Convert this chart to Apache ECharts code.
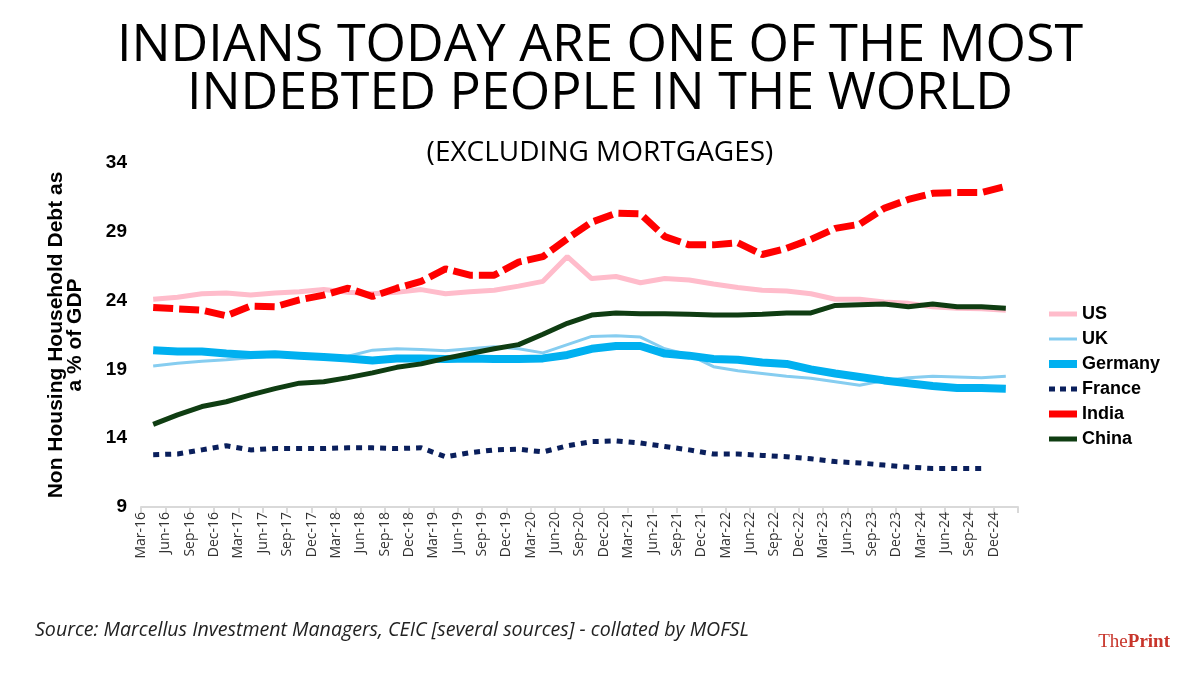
<!DOCTYPE html>
<html>
<head>
<meta charset="utf-8">
<script src="https://cdn.jsdelivr.net/npm/echarts@6/dist/echarts.min.js"></script>
<style>
  html, body { margin: 0; padding: 0; background: #fff; }
  #chart { width: 1200px; height: 675px; }
</style>
</head>
<body>
<div id="chart"></div>
<script>
// quarter labels (Mar-16 .. Dec-24)
var quarters = ['Mar-16','Jun-16','Sep-16','Dec-16','Mar-17','Jun-17','Sep-17','Dec-17',
  'Mar-18','Jun-18','Sep-18','Dec-18','Mar-19','Jun-19','Sep-19','Dec-19',
  'Mar-20','Jun-20','Sep-20','Dec-20','Mar-21','Jun-21','Sep-21','Dec-21',
  'Mar-22','Jun-22','Sep-22','Dec-22','Mar-23','Jun-23','Sep-23','Dec-23',
  'Mar-24','Jun-24','Sep-24','Dec-24'];

// non housing household debt, % of GDP
var us = [24.1,24.25,24.5,24.55,24.4,24.55,24.65,24.8,24.6,24.5,24.6,24.8,
  24.5,24.65,24.75,25.05,25.4,27.2,25.6,25.75,25.3,25.6,25.5,25.2,
  24.95,24.75,24.7,24.5,24.1,24.1,23.9,23.8,23.55,23.45,23.4,23.3];
var uk = [19.25,19.45,19.6,19.7,19.85,19.95,20.0,19.9,19.95,20.4,20.5,20.45,
  20.35,20.5,20.65,20.5,20.2,20.8,21.4,21.45,21.35,20.5,20.05,19.2,
  18.9,18.7,18.5,18.35,18.1,17.85,18.2,18.4,18.5,18.45,18.4,18.5];
var germany = [20.4,20.3,20.3,20.15,20.05,20.1,20.0,19.9,19.8,19.65,19.8,19.8,
  19.75,19.8,19.75,19.75,19.8,20.05,20.5,20.7,20.7,20.15,20.0,19.75,
  19.7,19.5,19.4,19.0,18.7,18.45,18.2,18.0,17.8,17.65,17.65,17.6];
var france = [12.8,12.85,13.15,13.45,13.15,13.25,13.25,13.25,13.3,13.3,13.25,13.3,
  12.65,12.95,13.15,13.2,13.0,13.45,13.75,13.8,13.65,13.4,13.15,12.85,
  12.85,12.75,12.65,12.5,12.3,12.2,12.05,11.9,11.8,11.8,11.8,null];
var india = [23.5,23.4,23.3,22.9,23.6,23.55,24.05,24.4,24.9,24.3,24.9,25.4,
  26.3,25.85,25.85,26.8,27.2,28.5,29.7,30.35,30.3,28.65,28.05,28.05,
  28.2,27.35,27.8,28.45,29.25,29.55,30.7,31.35,31.8,31.85,31.85,32.3];
var china = [15.0,15.7,16.3,16.65,17.15,17.6,18.0,18.1,18.4,18.75,19.15,19.4,
  19.8,20.15,20.5,20.8,21.55,22.35,22.95,23.1,23.05,23.05,23.0,22.95,
  22.95,23.0,23.1,23.1,23.65,23.7,23.75,23.55,23.75,23.55,23.55,23.45];

var chart = echarts.init(document.getElementById('chart'));

function line(name, data, color, width, type) {
  return {
    name: name,
    type: 'line',
    xAxisIndex: 0,
    data: data,
    symbol: 'none',
    connectNulls: false,
    lineStyle: { color: color, width: width, type: type || 'solid', cap: 'butt' },
    itemStyle: { color: color }
  };
}

var option = {
  backgroundColor: '#fff',
  animation: false,
  title: [
    {
      text: 'INDIANS TODAY ARE ONE OF THE MOST\nINDEBTED PEOPLE IN THE WORLD',
      left: 'center',
      top: 17,
      textStyle: { fontFamily: 'Open Sans', fontWeight: 'normal', fontSize: 52, lineHeight: 48, color: '#000' }
    },
    {
      text: '(EXCLUDING MORTGAGES)',
      left: 'center',
      top: 134,
      textStyle: { fontFamily: 'Open Sans', fontWeight: 'normal', fontSize: 28, color: '#000' }
    }
  ],
  grid: { left: 141, right: 182, top: 163, bottom: 168 },
  legend: {
    orient: 'vertical',
    left: 1040,
    top: 300,
    itemWidth: 28,
    itemHeight: 14,
    itemGap: 7,
    // hide the marker that echarts puts in the middle of line legend icons
    itemStyle: { opacity: 0 },
    textStyle: { fontFamily: 'Liberation Sans', fontWeight: 'bold', fontSize: 18, color: '#000' },
    data: [
      { name: 'US', lineStyle: { width: 5 } },
      { name: 'UK', lineStyle: { width: 3 } },
      { name: 'Germany', lineStyle: { width: 8 } },
      { name: 'France', lineStyle: { width: 5, type: [6, 5] } },
      { name: 'India', lineStyle: { width: 7, type: 'solid' } },
      { name: 'China', lineStyle: { width: 5 } }
    ]
  },
  xAxis: [
    {
      type: 'category',
      data: quarters,
      boundaryGap: true,
      axisLine: { show: false },
      axisTick: { show: false },
      axisLabel: { show: false }
    },
    {
      // label axis: labels sit on the band boundaries like the original
      type: 'category',
      position: 'bottom',
      data: quarters.concat(['']),
      boundaryGap: false,
      axisLine: { show: true, lineStyle: { color: '#d9d9d9', width: 2 } },
      axisTick: { show: true, length: 6, lineStyle: { color: '#d9d9d9', width: 2 } },
      axisLabel: {
        interval: 0,
        rotate: 90,
        margin: 5,
        fontFamily: 'Open Sans',
        fontSize: 14,
        color: '#333'
      }
    }
  ],
  yAxis: {
    type: 'value',
    min: 9,
    max: 34,
    interval: 5,
    name: 'Non Housing Household Debt as\na % of GDP',
    nameLocation: 'middle',
    nameGap: 56,
    nameTextStyle: { fontFamily: 'Liberation Sans', fontWeight: 'bold', fontSize: 21, color: '#000', lineHeight: 19, align: 'center' },
    axisLine: { show: false },
    axisTick: { show: false },
    splitLine: { show: false },
    axisLabel: { fontFamily: 'Liberation Sans', fontWeight: 'bold', fontSize: 19, color: '#000', margin: 14 }
  },
  graphic: [
    {
      type: 'text',
      left: 35,
      top: 620,
      style: {
        text: 'Source: Marcellus Investment Managers, CEIC [several sources] - collated by MOFSL',
        fontFamily: 'Open Sans',
        fontStyle: 'italic',
        fontSize: 19.6,
        fill: '#222'
      }
    },
    {
      type: 'text',
      right: 30,
      top: 633,
      style: {
        text: '{a|The}{b|Print}',
        rich: {
          a: { fontFamily: 'Liberation Serif', fontSize: 19, fill: '#c8352b' },
          b: { fontFamily: 'Liberation Serif', fontSize: 19, fontWeight: 'bold', fill: '#c8352b' }
        }
      }
    }
  ],
  series: [
    line('US', us, '#ffbccb', 5),
    line('UK', uk, '#86cdf0', 3),
    line('Germany', germany, '#00b0f0', 8),
    line('France', france, '#0a1f5c', 5, [6, 6]),
    line('India', india, '#ff0000', 7, [20, 6]),
    line('China', china, '#0f3d12', 5)
  ]
};

chart.setOption(option);
</script>
</body>
</html>
